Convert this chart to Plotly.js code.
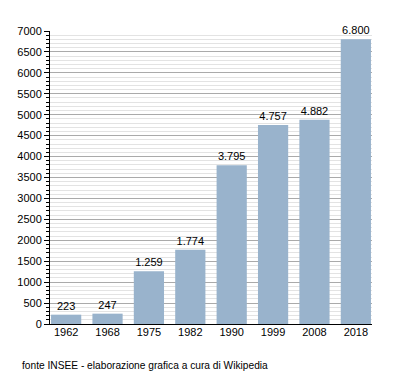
<!DOCTYPE html>
<html><head><meta charset="utf-8">
<script src="https://cdn.plot.ly/plotly-3.0.1.min.js"></script>
<style>html,body{margin:0;padding:0;background:#fff}#c{width:400px;height:373px}</style>
</head><body><div id="c"></div>
<script>
const years = ['1962','1968','1975','1982','1990','1999','2008','2018'];
const population = [223, 247, 1259, 1774, 3795, 4757, 4882, 6800];
const yTicks = [0,500,1000,1500,2000,2500,3000,3500,4000,4500,5000,5500,6000,6500,7000];
const sourceNote = 'fonte INSEE - elaborazione grafica a cura di Wikipedia';

const fontFam = 'Liberation Sans, Arial, sans-serif';
Plotly.newPlot('c', [{
  type: 'bar', x: years, y: population,
  marker: {color: '#99b3cc', line: {width: 0}},
  texttemplate: '%{y:,}', textposition: 'outside', cliponaxis: false,
  textfont: {family: fontFam, size: 11, color: '#000'},
  hoverinfo: 'none'
}], {
  width: 400, height: 373,
  margin: {l: 50, r: 28, t: 31, b: 49},
  separators: ',.',
  bargap: 0.27,
  paper_bgcolor: '#fff', plot_bgcolor: '#fff',
  font: {family: fontFam, size: 11, color: '#000'},
  showlegend: false,
  xaxis: {type: 'category', range: [-0.39, 7.39], showgrid: false, ticks: '',
    showline: true, linecolor: '#000', linewidth: 1, zeroline: false,
    tickfont: {size: 11}, ticklabelstandoff: -2, fixedrange: true},
  yaxis: {range: [0, 7000], tickvals: yTicks, ticktext: yTicks.map(String),
    ticks: 'outside', ticklen: 5, tickcolor: '#000', showline: true, linecolor: '#000', linewidth: 1,
    showgrid: true, gridcolor: '#aaaaaa', gridwidth: 1, zeroline: false,
    minor: {dtick: 100, ticks: 'outside', ticklen: 3, tickcolor: '#000', showgrid: true, gridcolor: '#e3e3e3', gridwidth: 1},
    tickfont: {size: 11}, fixedrange: true},
  annotations: [{text: sourceNote, xref: 'paper', yref: 'paper', x: -0.093, y: -0.14,
    xanchor: 'left', yanchor: 'middle', showarrow: false, font: {size: 10.2, color: '#000'}}]
}, {staticPlot: true});
</script></body></html>
